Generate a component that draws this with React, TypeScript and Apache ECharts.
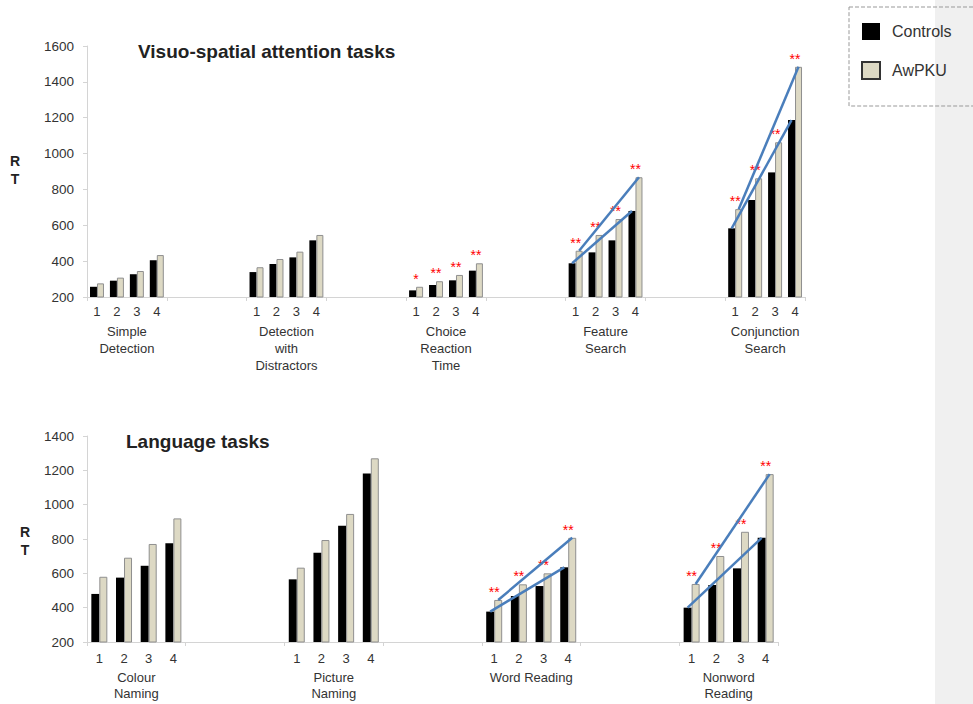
import React, { useEffect, useRef } from "react";
import * as echarts from "echarts";

// ---- data ----
const levels = ["1", "2", "3", "4"];
const topTasks = [
  "Simple\nDetection",
  "Detection\nwith\nDistractors",
  "Choice\nReaction\nTime",
  "Feature\nSearch",
  "Conjunction\nSearch",
];
const bottomTasks = ["Colour\nNaming", "Picture\nNaming", "Word Reading", "Nonword\nReading"];

const topControls = [257, 291, 327, 405, 339, 384, 421, 516, 237, 267, 293, 347, 388, 449, 516, 680, 583, 741, 895, 1187];
const topAwPKU = [276, 308, 345, 434, 366, 412, 453, 546, 257, 288, 323, 388, 458, 546, 635, 868, 690, 862, 1063, 1484];
const topSig = ["", "", "", "", "", "", "", "", "*", "**", "**", "**", "**", "**", "**", "**", "**", "**", "**", "**"];
const topTrendTasks = [3, 4];

const bottomControls = [480, 575, 644, 775, 565, 720, 877, 1182, 377, 468, 526, 635, 400, 532, 629, 807];
const bottomAwPKU = [580, 691, 771, 920, 633, 794, 946, 1270, 445, 536, 600, 807, 538, 701, 842, 1178];
const bottomSig = ["", "", "", "", "", "", "", "", "**", "**", "**", "**", "**", "**", "**", "**"];
const bottomTrendTasks = [2, 3];

const topTicks = { min: 200, max: 1600, interval: 200 };
const bottomTicks = { min: 200, max: 1400, interval: 200 };

const FONT = "'Liberation Sans', Arial, sans-serif";
const BEIGE = "#ddd9c4";
const BLUE = "#4a7ebb";

// build fine categories: each slot (task or gap) has 4 sub-categories
function buildPanel(tasks: string[], controls: number[], aw: number[], sig: string[], trends: number[]) {
  const nSlots = tasks.length * 2 - 1;
  const fine: string[] = [];
  const ctrl: (number | string)[] = [];
  const awp: (number | string)[] = [];
  const stars: string[] = [];
  for (let s = 0; s < nSlots; s++) {
    for (let l = 0; l < 4; l++) {
      fine.push(s + "-" + l);
      if (s % 2 === 0) {
        const g = s / 2;
        ctrl.push(controls[g * 4 + l]);
        awp.push(aw[g * 4 + l]);
        stars.push(sig[g * 4 + l]);
      } else {
        ctrl.push("-");
        awp.push("-");
        stars.push("");
      }
    }
  }
  const slots: string[] = [];
  for (let s = 0; s < nSlots; s++) slots.push("slot" + s);
  const slotLabel = (v: string) => {
    const s = parseInt(v.replace("slot", ""), 10);
    return s % 2 === 0 ? tasks[s / 2] : "";
  };
  const trendData: number[][] = [];
  trends.forEach((g) => {
    const c0 = g * 2 * 4;
    trendData.push([c0, controls[g * 4], c0 + 3, controls[g * 4 + 3], -1]);
    trendData.push([c0, aw[g * 4], c0 + 3, aw[g * 4 + 3], 1]);
  });
  return { fine, ctrl, awp, stars, slots, slotLabel, trendData };
}

export default function App() {
  const ref = useRef<HTMLDivElement>(null);
  useEffect(() => {
    if (!ref.current) return;
    const chart = echarts.init(ref.current, undefined, { renderer: "svg" });
    const top = buildPanel(topTasks, topControls, topAwPKU, topSig, topTrendTasks);
    const bot = buildPanel(bottomTasks, bottomControls, bottomAwPKU, bottomSig, bottomTrendTasks);

    const fineLabel = (v: string) => {
      const [s, l] = v.split("-").map((x) => parseInt(x, 10));
      return s % 2 === 0 ? levels[l] : "";
    };
    const axisGray = "#d4d4d4";
    const fineAxis = (gridIndex: number, margin: number) => ({
      type: "category",
      gridIndex,
      position: "bottom",
      data: gridIndex === 0 ? top.fine : bot.fine,
      boundaryGap: true,
      axisLine: { show: true, onZero: false, lineStyle: { color: axisGray, width: 1 } },
      axisTick: {
        show: true,
        length: 4,
        interval: (i: number) => i % 4 === 0,
        lineStyle: { color: axisGray },
      },
      axisLabel: {
        interval: 0,
        margin,
        formatter: fineLabel,
        color: "#333",
        fontSize: 13,
        fontFamily: FONT,
      },
    });
    const slotAxis = (gridIndex: number, offset: number, lineHeight: number) => ({
      type: "category",
      gridIndex,
      position: "bottom",
      offset,
      data: gridIndex === 0 ? top.slots : bot.slots,
      axisLine: { show: false, onZero: false },
      axisTick: { show: false },
      axisLabel: {
        interval: 0,
        margin: 8,
        formatter: gridIndex === 0 ? top.slotLabel : bot.slotLabel,
        color: "#333",
        fontSize: 13,
        lineHeight,
        fontFamily: FONT,
      },
    });
    const yAxis = (gridIndex: number, t: { min: number; max: number; interval: number }) => ({
      type: "value",
      gridIndex,
      min: t.min,
      max: t.max,
      interval: t.interval,
      splitLine: { show: false },
      axisLine: { show: true, lineStyle: { color: axisGray } },
      axisTick: { show: true, length: 4, lineStyle: { color: axisGray } },
      axisLabel: {
        color: "#333",
        fontSize: 13.5,
        margin: 13,
        fontFamily: FONT,
        formatter: (v: number) => String(v),
      },
    });
    const barPair = (p: any, idx: number, barWidth: number) => [
      {
        name: "Controls",
        type: "bar",
        xAxisIndex: idx * 2,
        yAxisIndex: idx,
        data: p.ctrl,
        barWidth,
        barGap: "0%",
        itemStyle: { color: "#000000" },
      },
      {
        name: "AwPKU",
        type: "bar",
        xAxisIndex: idx * 2,
        yAxisIndex: idx,
        data: p.awp,
        barWidth,
        barGap: "0%",
        itemStyle: { color: BEIGE, borderColor: "#8f8f8f", borderWidth: 1 },
        label: {
          show: true,
          position: "top",
          distance: 1,
          offset: [-barWidth / 2, 0],
          formatter: (prm: any) => p.stars[prm.dataIndex],
          color: "#ff0000",
          fontSize: 14,
          fontFamily: FONT,
        },
      },
      {
        name: "trend",
        type: "custom",
        xAxisIndex: idx * 2,
        yAxisIndex: idx,
        data: p.trendData,
        encode: { x: [0, 2], y: [1, 3] },
        renderItem: (_params: any, api: any) => {
          const a = api.coord([api.value(0), api.value(1)]);
          const b = api.coord([api.value(2), api.value(3)]);
          const off = (api.value(4) * barWidth) / 2;
          return {
            type: "line",
            shape: { x1: a[0] + off, y1: a[1], x2: b[0] + off, y2: b[1] },
            style: { stroke: BLUE, lineWidth: 2.5 },
          };
        },
        z: 5,
      },
    ];

    chart.setOption({
      animation: false,
      backgroundColor: "#ffffff",
      textStyle: { fontFamily: FONT },
      title: [
        {
          text: "Visuo-spatial attention tasks",
          left: 138,
          top: 42,
          padding: 0,
          textStyle: { fontSize: 19, fontWeight: "bold", color: "#222", fontFamily: FONT },
        },
        {
          text: "Language tasks",
          left: 126,
          top: 432,
          padding: 0,
          textStyle: { fontSize: 19, fontWeight: "bold", color: "#222", fontFamily: FONT },
        },
      ],
      legend: {
        left: 849,
        top: 7,
        orient: "vertical",
        data: [
          { name: "Controls", itemStyle: { color: "#000000" } },
          { name: "AwPKU", itemStyle: { color: BEIGE, borderColor: "#333", borderWidth: 2 } },
        ],
        icon: "rect",
        itemWidth: 18,
        itemHeight: 17,
        itemGap: 21,
        padding: [16, 40, 26, 12],
        borderColor: "#999",
        borderWidth: 1,
        borderType: "dashed",
        textStyle: { color: "#333", fontSize: 16, fontFamily: FONT, padding: [0, 0, 0, 7] },
        selectedMode: false,
      },
      graphic: [
        {
          type: "rect",
          silent: true,
          z: -10,
          shape: { x: 935, y: 0, width: 38, height: 704 },
          style: { fill: "#f0f0f0" },
        },
        {
          type: "text",
          x: 15,
          y: 170,
          style: {
            text: "R\nT",
            align: "center",
            verticalAlign: "middle",
            font: "bold 14px " + FONT,
            fill: "#222",
            lineHeight: 18,
          },
        },
        {
          type: "text",
          x: 25,
          y: 541,
          style: {
            text: "R\nT",
            align: "center",
            verticalAlign: "middle",
            font: "bold 14px " + FONT,
            fill: "#222",
            lineHeight: 18,
          },
        },
      ],
      grid: [
        { left: 87, top: 46, width: 718, height: 251, containLabel: false, outerBoundsMode: "none" },
        { left: 87, top: 436, width: 691, height: 206, containLabel: false, outerBoundsMode: "none" },
      ],
      xAxis: [fineAxis(0, 8), slotAxis(0, 18, 17), fineAxis(1, 10), slotAxis(1, 19, 16)],
      yAxis: [yAxis(0, topTicks), yAxis(1, bottomTicks)],
      series: [...barPair(top, 0, 7), ...barPair(bot, 1, 8)],
    });
    return () => chart.dispose();
  }, []);
  return (
    <div
      ref={ref}
      style={{ position: "absolute", left: 0, top: 0, width: 973, height: 704 }}
    />
  );
}
